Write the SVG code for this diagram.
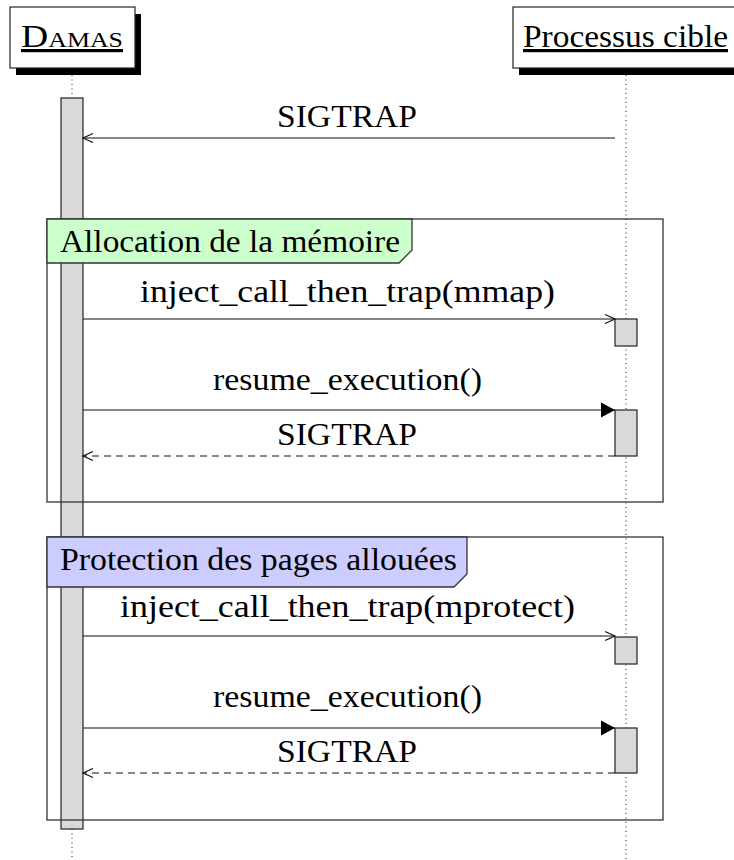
<svg xmlns="http://www.w3.org/2000/svg" width="734" height="860" viewBox="0 0 734 860">
<style>
  .t { font-size: 32px; fill: #000; }
  .lbl { text-anchor: middle; }
  .life { stroke: #444; stroke-width: 1.2; stroke-dasharray: 1 3.5; fill: none; }
  .act { fill: #d9d9d9; stroke: #222; stroke-width: 1.2; }
  .box { fill: #fff; stroke: #222; stroke-width: 1.2; }
  .shadow { fill: #000; stroke: none; }
  .frame { fill: none; stroke: #333; stroke-width: 1.3; }
  .msg { stroke: #111; stroke-width: 1.2; fill: none; }
  .ret { stroke-dasharray: 7 5; }
  .open { marker-end: url(#openHead); }
  .fill { marker-end: url(#fillHead); }
</style>
<defs>
  <marker id="openHead" markerUnits="userSpaceOnUse" markerWidth="14" markerHeight="14" viewBox="-12 -7 14 14" refX="0" refY="0" orient="auto">
    <path d="M-10,-4.5 L0,0 L-10,4.5" fill="none" stroke="#111" stroke-width="1.2"/>
  </marker>
  <marker id="fillHead" markerUnits="userSpaceOnUse" markerWidth="18" markerHeight="18" viewBox="-16 -9 18 18" refX="0" refY="0" orient="auto">
    <path d="M-14,-7.5 L0,0 L-14,7.5 Z" fill="#000" stroke="none"/>
  </marker>
</defs>
<rect width="734" height="860" fill="#fff"/>

<g font-family="Liberation Serif, DejaVu Serif, serif">

<g id="lifelines">
  <line class="life" x1="72" y1="75" x2="72" y2="98"/>
  <line class="life" x1="72" y1="829" x2="72" y2="860"/>
  <line class="life" x1="626" y1="75" x2="626" y2="860"/>
</g>

<g id="damas">
  <rect class="shadow" x="16" y="14" width="125" height="61"/>
  <rect class="box" x="10" y="7" width="125" height="61"/>
  <text class="t" x="21" y="47" font-variant="small-caps" text-decoration="underline" textLength="102" lengthAdjust="spacingAndGlyphs">Damas</text>
  <rect class="act" x="61" y="98" width="22" height="731"/>
</g>

<g id="processus">
  <rect class="shadow" x="519" y="14" width="230" height="61"/>
  <rect class="box" x="513" y="7" width="230" height="61"/>
  <text class="t" x="523" y="47" text-decoration="underline" textLength="205" lengthAdjust="spacingAndGlyphs">Processus cible</text>
  <rect class="act" x="615" y="319" width="22" height="27"/>
  <rect class="act" x="615" y="410" width="22" height="46"/>
  <rect class="act" x="615" y="637" width="22" height="27"/>
  <rect class="act" x="615" y="728" width="22" height="45"/>
</g>

<g id="frame-allocation">
  <rect class="frame" x="47" y="219" width="616" height="283"/>
  <path d="M47,219 H412 V250 L399,263 H47 Z" fill="#ccffcc" stroke="#333" stroke-width="1.3"/>
  <text class="t" x="60" y="252" textLength="340" lengthAdjust="spacingAndGlyphs">Allocation de la mémoire</text>
</g>

<g id="frame-protection">
  <rect class="frame" x="47" y="537" width="616" height="283"/>
  <path d="M47,537 H467 V574 L454,587 H47 Z" fill="#ccccff" stroke="#333" stroke-width="1.3"/>
  <text class="t" x="60" y="570" textLength="397" lengthAdjust="spacingAndGlyphs">Protection des pages allouées</text>
</g>

<g id="connectors">
  <line class="msg open" x1="615" y1="138" x2="83" y2="138"/>
  <text class="t lbl" x="347" y="127" textLength="140" lengthAdjust="spacingAndGlyphs">SIGTRAP</text>

  <line class="msg open" x1="83" y1="319" x2="615" y2="319"/>
  <text class="t lbl" x="347.5" y="302" textLength="415" lengthAdjust="spacingAndGlyphs">inject_call_then_trap(mmap)</text>

  <line class="msg fill" x1="83" y1="410" x2="615" y2="410"/>
  <text class="t lbl" x="347.5" y="390" textLength="269" lengthAdjust="spacingAndGlyphs">resume_execution()</text>

  <line class="msg ret open" x1="615" y1="456" x2="83" y2="456"/>
  <text class="t lbl" x="347" y="445" textLength="140" lengthAdjust="spacingAndGlyphs">SIGTRAP</text>

  <line class="msg open" x1="83" y1="636" x2="615" y2="636"/>
  <text class="t lbl" x="347.5" y="617" textLength="455" lengthAdjust="spacingAndGlyphs">inject_call_then_trap(mprotect)</text>

  <line class="msg fill" x1="83" y1="728" x2="615" y2="728"/>
  <text class="t lbl" x="347.5" y="707" textLength="269" lengthAdjust="spacingAndGlyphs">resume_execution()</text>

  <line class="msg ret open" x1="615" y1="773" x2="83" y2="773"/>
  <text class="t lbl" x="347" y="762" textLength="140" lengthAdjust="spacingAndGlyphs">SIGTRAP</text>
</g>

</g>
</svg>
